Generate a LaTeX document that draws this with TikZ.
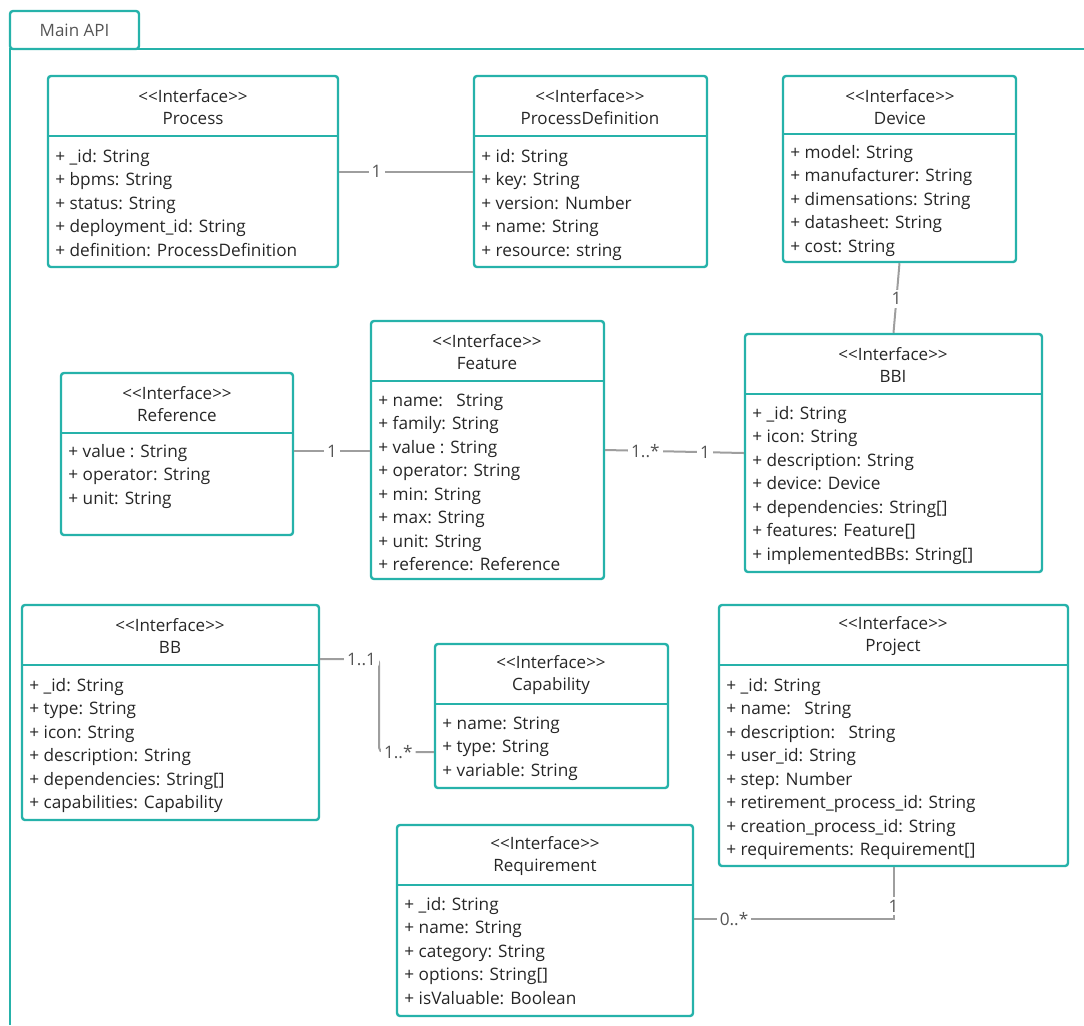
\documentclass[tikz,border=0pt]{standalone}
\usepackage{fontspec}
\setmainfont{Open Sans}
\usetikzlibrary{fit,positioning,calc}
\definecolor{umlteal}{RGB}{38,178,170}
\definecolor{linkgray}{RGB}{158,158,158}
\definecolor{txtdark}{RGB}{38,38,38}
\definecolor{lblgray}{RGB}{85,85,85}

\begin{document}
\begin{tikzpicture}[
  x=0.5pt, y=-0.5pt,
  cls/.style  = {draw=umlteal, line width=1.2pt, rounded corners=1.5pt,
                 inner sep=0pt},
  div/.style  = {draw=umlteal, line width=1.2pt},
  hdr/.style  = {font=\fontsize{8.5}{11}\selectfont, text=txtdark,
                 align=center, inner sep=0pt},
  attr/.style = {font=\fontsize{8.6}{11.75}\selectfont, text=txtdark,
                 align=left, inner sep=0pt, anchor=north west},
  link/.style = {draw=linkgray, line width=1pt},
  mult/.style = {font=\fontsize{8.6}{9}\selectfont, text=lblgray,
                 fill=white, inner sep=1.5pt},
]
\useasboundingbox (0,0) rectangle (1084,1025);

% ── Frame ─────────────────────────────────────────────────────────────────────
\node[cls, fit={(10,11) (139,49)}] (tab) {};
\node[hdr, text=lblgray] (tab-t) at (tab.center) {Main API};
\draw[div] (10,1025) -- (10,49) -- (1084,49);

% ── Row 1 ─────────────────────────────────────────────────────────────────────
\node[cls, fit={(48,76) (338,267)}] (process) {};
\draw[div] (48,136) -- (338,136);
\node[hdr] (process-t) at (193,107) {{<}{<}Interface{>}{>}\\Process};
\node[attr] (process-a) at (55,149)
  {+ \_id: String\\+ bpms: String\\+ status: String\\
   + deployment\_id: String\\+ definition: ProcessDefinition};

\node[cls, fit={(474,76) (707,267)}] (procdef) {};
\draw[div] (474,136) -- (707,136);
\node[hdr] (procdef-t) at (590,107) {{<}{<}Interface{>}{>}\\ProcessDefinition};
\node[attr] (procdef-a) at (481,149)
  {+ id: String\\+ key: String\\+ version: Number\\
   + name: String\\+ resource: string};

\node[cls, fit={(783,76) (1016,262)}] (device) {};
\draw[div] (783,134) -- (1016,134);
\node[hdr] (device-t) at (900,107) {{<}{<}Interface{>}{>}\\Device};
\node[attr] (device-a) at (790,145)
  {+ model: String\\+ manufacturer: String\\+ dimensations: String\\
   + datasheet: String\\+ cost: String};

% ── Row 2 ─────────────────────────────────────────────────────────────────────
\node[cls, fit={(61,373) (293,535)}] (reference) {};
\draw[div] (61,433) -- (293,433);
\node[hdr] (reference-t) at (177,404) {{<}{<}Interface{>}{>}\\Reference};
\node[attr] (reference-a) at (68,444)
  {+ value : String\\+ operator: String\\+ unit: String};

\node[cls, fit={(371,321) (604,579)}] (feature) {};
\draw[div] (371,381) -- (604,381);
\node[hdr] (feature-t) at (487,352) {{<}{<}Interface{>}{>}\\Feature};
\node[attr] (feature-a) at (378,393)
  {+ name:\ \ \ String\\+ family: String\\+ value : String\\
   + operator: String\\+ min: String\\+ max: String\\
   + unit: String\\+ reference: Reference};

\node[cls, fit={(745,334) (1042,572)}] (bbi) {};
\draw[div] (745,394) -- (1042,394);
\node[hdr] (bbi-t) at (893,365) {{<}{<}Interface{>}{>}\\BBI};
\node[attr] (bbi-a) at (752,406)
  {+ \_id: String\\+ icon: String\\+ description: String\\
   + device: Device\\+ dependencies: String[]\\+ features: Feature[]\\
   + implementedBBs: String[]};

% ── Row 3 ─────────────────────────────────────────────────────────────────────
\node[cls, fit={(22,605) (319,820)}] (bb) {};
\draw[div] (22,665) -- (319,665);
\node[hdr] (bb-t) at (170,636) {{<}{<}Interface{>}{>}\\BB};
\node[attr] (bb-a) at (29,678)
  {+ \_id: String\\+ type: String\\+ icon: String\\
   + description: String\\+ dependencies: String[]\\+ capabilities: Capability};

\node[cls, fit={(435,644) (668,788)}] (capability) {};
\draw[div] (435,704) -- (668,704);
\node[hdr] (capability-t) at (551,675) {{<}{<}Interface{>}{>}\\Capability};
\node[attr] (capability-a) at (442,716)
  {+ name: String\\+ type: String\\+ variable: String};

\node[cls, fit={(719,605) (1068,866)}] (project) {};
\draw[div] (719,665) -- (1068,665);
\node[hdr] (project-t) at (893,636) {{<}{<}Interface{>}{>}\\Project};
\node[attr] (project-a) at (726,678)
  {+ \_id: String\\+ name:\ \ \ String\\+ description:\ \ \ String\\
   + user\_id: String\\+ step: Number\\+ retirement\_process\_id: String\\
   + creation\_process\_id: String\\+ requirements: Requirement[]};

\node[cls, fit={(397,825) (693,1016)}] (requirement) {};
\draw[div] (397,885) -- (693,885);
\node[hdr] (requirement-t) at (545,856) {{<}{<}Interface{>}{>}\\Requirement};
\node[attr] (requirement-a) at (404,897)
  {+ \_id: String\\+ name: String\\+ category: String\\
   + options: String[]\\+ isValuable: Boolean};

% ── Associations ──────────────────────────────────────────────────────────────
\draw[link] (process) -- node[mult, pos=0.28] {1} (procdef);
\draw[link] (device.south) -- node[mult, pos=0.51] {1} (bbi.north);
\draw[link] ([yshift=1.5pt]reference.east) -- node[mult, pos=0.5] {1}
  ([yshift=1.5pt]reference.east -| feature.west);
\draw[link] (feature.east) -- node[mult, pos=0.29] {1..*}
  node[mult, pos=0.72] {1} (bbi.west);
\draw[link, rounded corners=2pt] ([yshift=26.75pt]bb.east)
  -- node[mult, pos=0.7] {1..1} ++(59,0)
  |- node[mult, pos=0.675] {1..*} ([yshift=-18pt]capability.west);
\draw[link] (project.south) |- node[mult, pos=0.375] {1}
  node[mult, pos=0.9] {0..*} ([yshift=0.75pt]requirement.east);

\end{tikzpicture}
\end{document}
